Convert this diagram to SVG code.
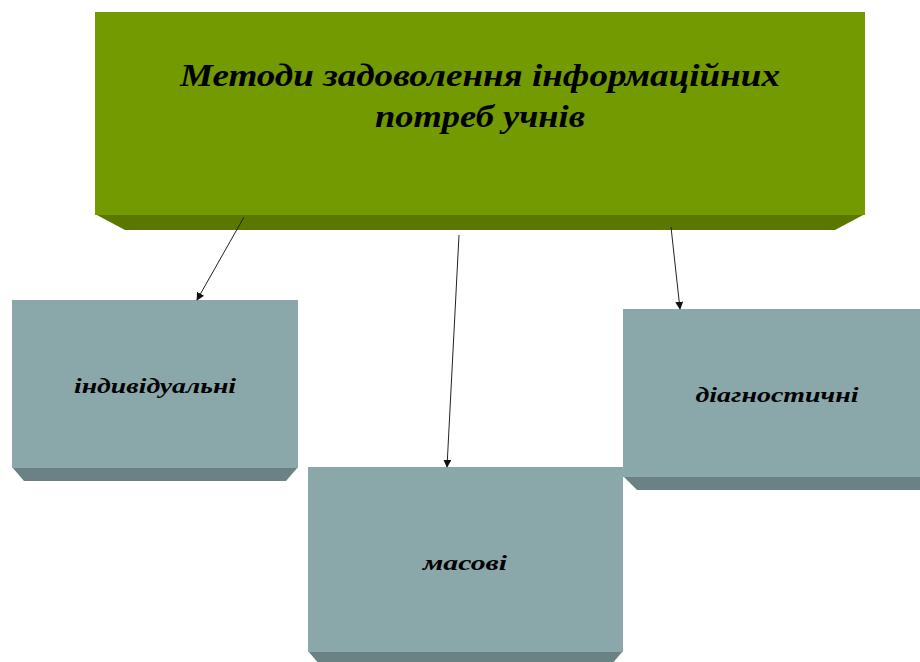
<svg xmlns="http://www.w3.org/2000/svg" width="920" height="662" viewBox="0 0 920 662">
<style>
.t{font-family:"Liberation Serif","Times New Roman",serif;font-weight:bold;font-style:italic;fill:#000;text-anchor:middle}
.face{fill:#8aa8a9}
.bev{fill:#6b8284}
.gface{fill:#739a00}
.gbev{fill:#5a7800}
.c{stroke:#222;stroke-width:1;fill:none;marker-end:url(#ah)}
</style>
<defs>
<marker id="ah" viewBox="0 0 10 10" refX="9" refY="5" markerWidth="8" markerHeight="8" markerUnits="userSpaceOnUse" orient="auto">
<path d="M0,0 L10,5 L0,10 z" fill="#111"/>
</marker>
</defs>
<rect width="920" height="662" fill="#fff"/>
<g id="top">
<polygon class="gbev" points="95,214 865,214 835,230 125,230"/>
<rect class="gface" x="95" y="12" width="770" height="203"/>
<text class="t" x="480" y="86" font-size="32" textLength="600" lengthAdjust="spacingAndGlyphs">Методи задоволення інформаційних</text>
<text class="t" x="480" y="127" font-size="32" textLength="210" lengthAdjust="spacingAndGlyphs">потреб учнів</text>
</g>
<g id="n3">
<polygon class="bev" points="623,476 920,476 920,490 637,490"/>
<rect class="face" x="623" y="309" width="297" height="168"/>
<text class="t" x="777" y="402" font-size="22" textLength="163" lengthAdjust="spacingAndGlyphs">діагностичні</text>
</g>
<g id="n1">
<polygon class="bev" points="12,467 298,467 286,481 24,481"/>
<rect class="face" x="12" y="300" width="286" height="168"/>
<text class="t" x="155" y="393" font-size="22" textLength="162" lengthAdjust="spacingAndGlyphs">індивідуальні</text>
</g>
<g id="n2">
<polygon class="bev" points="308,651 623,651 611,665 320,665"/>
<rect class="face" x="308" y="467" width="315" height="185"/>
<text class="t" x="465" y="570" font-size="22" textLength="84" lengthAdjust="spacingAndGlyphs">масові</text>
</g>
<g id="connectors">
<line class="c" x1="244" y1="217" x2="197" y2="300"/>
<line class="c" x1="459" y1="235" x2="447" y2="467"/>
<line class="c" x1="671" y1="227" x2="680" y2="309"/>
</g>
</svg>
